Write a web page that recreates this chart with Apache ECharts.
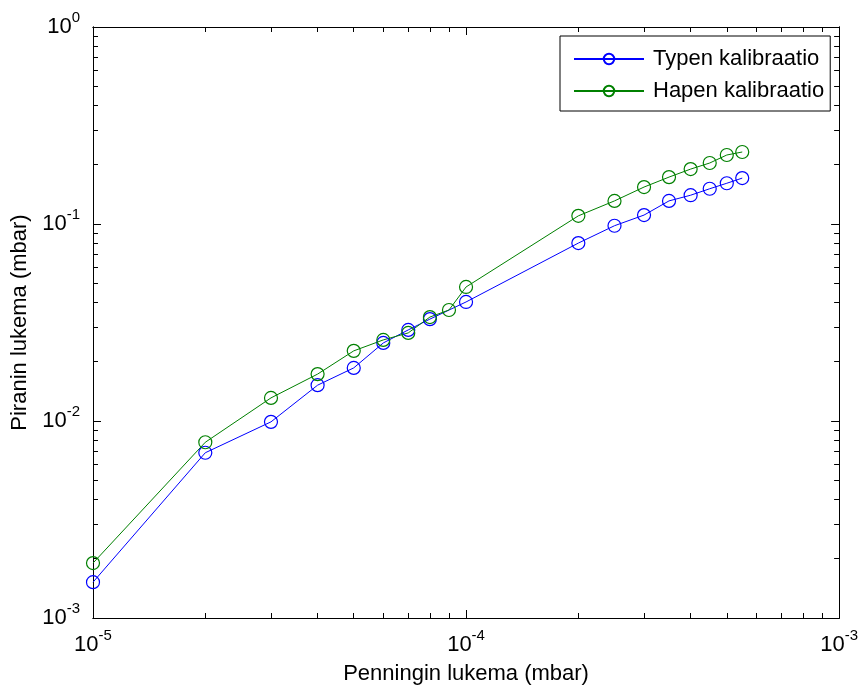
<!DOCTYPE html>
<html>
<head>
<meta charset="utf-8">
<script src="https://cdn.jsdelivr.net/npm/echarts@6/dist/echarts.min.js"></script>
<style>html,body{margin:0;padding:0;background:#fff;}#c{width:861px;height:690px;}</style>
</head>
<body>
<div id="c"></div>
<script>
// Data
var seriesNames = ['Typen kalibraatio', 'Hapen kalibraatio'];
var xTypen = [1e-5, 2e-5, 3e-5, 4e-5, 5e-5, 6e-5, 7e-5, 8e-5, 1e-4, 2e-4, 2.5e-4, 3e-4, 3.5e-4, 4e-4, 4.5e-4, 5e-4, 5.5e-4];
var yTypen = [0.00152, 0.0069, 0.0099, 0.0152, 0.0186, 0.0249, 0.0290, 0.0329, 0.0402, 0.080, 0.098, 0.111, 0.131, 0.140, 0.151, 0.161, 0.171];
var xHapen = [1e-5, 2e-5, 3e-5, 4e-5, 5e-5, 6e-5, 7e-5, 8e-5, 9e-5, 1e-4, 2e-4, 2.5e-4, 3e-4, 3.5e-4, 4e-4, 4.5e-4, 5e-4, 5.5e-4];
var yHapen = [0.0019, 0.0078, 0.0131, 0.0173, 0.0227, 0.0258, 0.0280, 0.0337, 0.0366, 0.0479, 0.110, 0.131, 0.154, 0.173, 0.190, 0.204, 0.224, 0.232];
var xMajorTicks = [1e-5, 1e-4, 1e-3];
var yMajorTicks = [1e-3, 1e-2, 1e-1, 1e0];
var xTitle = 'Penningin lukema (mbar)';
var yTitle = 'Piranin lukema (mbar)';

function minorTicks(majors) {
  var out = [];
  for (var i = 0; i < majors.length - 1; i++) {
    for (var k = 2; k <= 9; k++) out.push(majors[i] * k);
  }
  return out;
}
var xMinorTicks = minorTicks(xMajorTicks);
var yMinorTicks = minorTicks(yMajorTicks);

var FONT = "'Liberation Sans', Arial, sans-serif";
var rich = {
  b: {fontSize: 22, lineHeight: 34, fontFamily: FONT, color: '#000', verticalAlign: 'middle'},
  s: {fontSize: 15, lineHeight: 14, fontFamily: FONT, color: '#000', verticalAlign: 'top'}
};
function fmt(v) {
  var e = Math.round(Math.log10(v));
  return '{b|10}{s|' + e + '}';
}

function mkAxis(dim, pos, ticks, len, withLabel) {
  var ext = dim === 'x' ? [1e-5, 1e-3] : [1e-3, 1];
  var ax = {
    type: 'log', logBase: 10, min: ext[0], max: ext[1], position: pos,
    axisLine: {show: true, lineStyle: {color: '#000', width: 1}},
    axisTick: {show: true, inside: true, length: len, customValues: ticks, lineStyle: {color: '#000', width: 1}},
    axisLabel: {show: false},
    splitLine: {show: false},
    minorTick: {show: false},
    axisPointer: {show: false}
  };
  if (withLabel) {
    ax.axisLabel = {show: true, customValues: ticks, formatter: fmt, rich: rich,
      margin: dim === 'x' ? 10 : 13};
    ax.name = dim === 'x' ? xTitle : yTitle;
    ax.nameLocation = 'middle';
    ax.nameGap = dim === 'x' ? 45 : 59;
    ax.nameTextStyle = {fontSize: 22, fontFamily: FONT, color: '#000'};
  }
  return ax;
}

var chart = echarts.init(document.getElementById('c'), null, {renderer: 'canvas'});
chart.setOption({
  backgroundColor: '#fff',
  animation: false,
  grid: {left: 93, right: 18, top: 27, bottom: 72, containLabel: false},
  xAxis: [
    mkAxis('x', 'bottom', xMajorTicks, 8, true),
    mkAxis('x', 'bottom', xMinorTicks, 5, false),
    mkAxis('x', 'top', xMajorTicks, 8, false),
    mkAxis('x', 'top', xMinorTicks, 5, false)
  ],
  yAxis: [
    mkAxis('y', 'left', yMajorTicks, 8, true),
    mkAxis('y', 'left', yMinorTicks, 5, false),
    mkAxis('y', 'right', yMajorTicks, 8, false),
    mkAxis('y', 'right', yMinorTicks, 5, false)
  ],
  legend: {
    orient: 'vertical', left: 560, top: 36,
    itemWidth: 70, itemHeight: 13, itemGap: 10,
    padding: [12, 6, 9, 13],
    borderColor: '#000', borderWidth: 1, backgroundColor: '#fff',
    textStyle: {fontSize: 22, fontFamily: FONT, color: '#000', padding: [0, 0, 0, 4]},
    data: seriesNames
  },
  series: [
    {
      name: seriesNames[0], type: 'line', xAxisIndex: 0, yAxisIndex: 0,
      data: xTypen.map(function (x, i) { return [x, yTypen[i]]; }),
      symbol: 'circle', symbolSize: 13, showAllSymbol: true,
      lineStyle: {color: '#0000ff', width: 1},
      itemStyle: {color: 'rgba(0,0,0,0)', borderColor: '#0000ff', borderWidth: 1.2},
      emphasis: {disabled: true}
    },
    {
      name: seriesNames[1], type: 'line', xAxisIndex: 0, yAxisIndex: 0,
      data: xHapen.map(function (x, i) { return [x, yHapen[i]]; }),
      symbol: 'circle', symbolSize: 13, showAllSymbol: true,
      lineStyle: {color: '#008000', width: 1},
      itemStyle: {color: 'rgba(0,0,0,0)', borderColor: '#008000', borderWidth: 1.2},
      emphasis: {disabled: true}
    }
  ]
});
</script>
</body>
</html>
